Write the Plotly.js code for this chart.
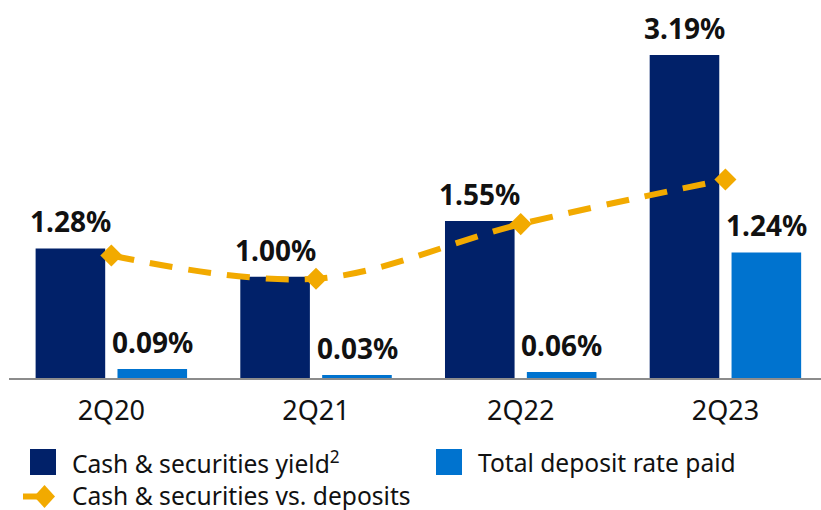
<!DOCTYPE html>
<html>
<head>
<meta charset="utf-8">
<script src="https://cdn.plot.ly/plotly-3.0.1.min.js"></script>
<style>
  html, body { margin: 0; padding: 0; background: #ffffff; }
  #chart { width: 821px; height: 510px; }
</style>
</head>
<body>
<div id="chart"></div>
<script>
// ---- Data ----
const categories = ["2Q20", "2Q21", "2Q22", "2Q23"];
const cashSecuritiesYield = [1.28, 1.00, 1.55, 3.19];
const totalDepositRate = [0.09, 0.03, 0.06, 1.24];
const cashVsDeposits = [1.21, 0.98, 1.52, 1.96];
const seriesNames = ["Cash & securities yield<sup>2</sup>", "Total deposit rate paid", "Cash & securities vs. deposits"];

// ---- Style ----
const NAVY = "#012169";
const BLUE = "#0073CF";
const GOLD = "#F2AA00";
const TEXT = "#111111";
const W = 821, H = 510;
const M = { l: 9, r: 0, t: 0, b: 132 };
const PW = W - M.l - M.r, PH = H - M.t - M.b;
const px = x => (x - M.l) / PW;
const py = y => (M.t + PH - y) / PH;

const traces = [
  {
    type: "bar", name: seriesNames[0], x: categories, y: cashSecuritiesYield,
    marker: { color: NAVY }, hoverinfo: "skip"
  },
  {
    type: "bar", name: seriesNames[1], x: categories, y: totalDepositRate,
    marker: { color: BLUE }, hoverinfo: "skip"
  },
  {
    type: "scatter", mode: "lines+markers", name: seriesNames[2], x: categories, y: cashVsDeposits,
    line: { color: GOLD, width: 6, dash: "23px,16px", shape: "spline", smoothing: 1 },
    marker: { symbol: "diamond", size: 17, color: GOLD }, hoverinfo: "skip"
  }
];

const annotations = [];
const labelFont = { family: "Noto Sans, sans-serif", size: 28, color: TEXT, weight: 700 };
categories.forEach((c, i) => {
  annotations.push({
    x: c, y: cashSecuritiesYield[i], xref: "x", yref: "y", xshift: -41, yshift: 6,
    text: "<b>" + cashSecuritiesYield[i].toFixed(2) + "%</b>", showarrow: false,
    xanchor: "center", yanchor: "bottom", font: labelFont
  });
  annotations.push({
    x: c, y: totalDepositRate[i], xref: "x", yref: "y", xshift: 41, yshift: 6,
    text: "<b>" + totalDepositRate[i].toFixed(2) + "%</b>", showarrow: false,
    xanchor: "center", yanchor: "bottom", font: labelFont
  });
});

// custom legend
const legFont = { family: "Noto Sans, sans-serif", size: 24.6, color: TEXT };
annotations.push({ xref: "paper", yref: "paper", x: px(70), y: py(462), xanchor: "left", yanchor: "middle",
  text: seriesNames[0], showarrow: false, font: legFont });
annotations.push({ xref: "paper", yref: "paper", x: px(476), y: py(462), xanchor: "left", yanchor: "middle",
  text: seriesNames[1], showarrow: false, font: legFont });
annotations.push({ xref: "paper", yref: "paper", x: px(70), y: py(495), xanchor: "left", yanchor: "middle",
  text: seriesNames[2], showarrow: false, font: legFont });

const dx = 10.5, dy = 11.5, dcx = 44.5, dcy = 496.5;
const shapes = [
  { type: "rect", xref: "paper", yref: "paper", x0: px(30), x1: px(56), y0: py(475), y1: py(449),
    fillcolor: NAVY, line: { width: 0 } },
  { type: "rect", xref: "paper", yref: "paper", x0: px(436), x1: px(462), y0: py(475), y1: py(449),
    fillcolor: BLUE, line: { width: 0 } },
  { type: "line", xref: "paper", yref: "paper", x0: px(23), x1: px(44), y0: py(496.5), y1: py(496.5),
    line: { color: GOLD, width: 6 } },
  { type: "path", xref: "paper", yref: "paper",
    path: `M${px(dcx - dx)},${py(dcy)} L${px(dcx)},${py(dcy - dy)} L${px(dcx + dx)},${py(dcy)} L${px(dcx)},${py(dcy + dy)} Z`,
    fillcolor: GOLD, line: { width: 0 } }
];

const layout = {
  width: W, height: H,
  margin: M,
  paper_bgcolor: "#ffffff", plot_bgcolor: "#ffffff",
  showlegend: false,
  barmode: "group", bargap: 0.2, bargroupgap: 0.15,
  xaxis: {
    type: "category", range: [-0.5, 3.467], fixedrange: true,
    showline: true, linecolor: "#8c8c8c", linewidth: 2,
    showgrid: false, zeroline: false, ticks: "",
    tickfont: { family: "Noto Sans, sans-serif", size: 27, color: TEXT },
    ticklabelstandoff: 8
  },
  yaxis: {
    range: [0, 3.733], visible: false, showgrid: false, zeroline: false, fixedrange: true
  },
  annotations: annotations,
  shapes: shapes
};

Plotly.newPlot("chart", traces, layout, { displayModeBar: false, staticPlot: true });
</script>
</body>
</html>
